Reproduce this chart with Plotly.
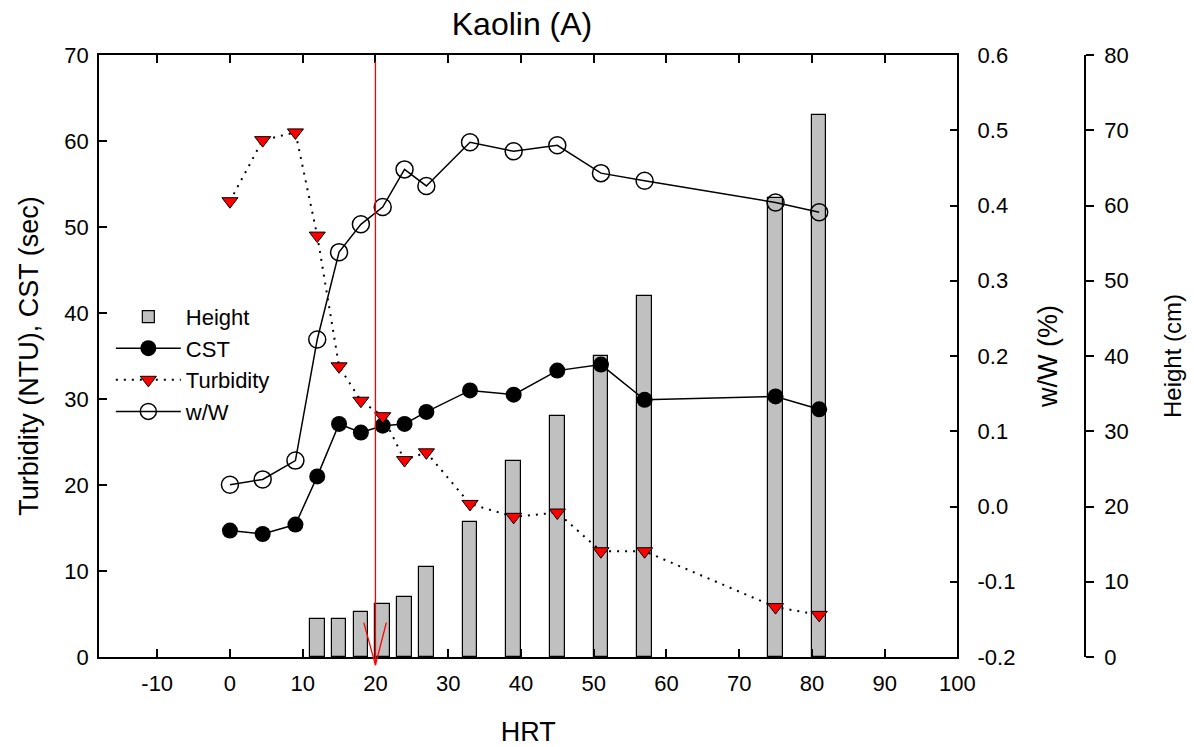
import plotly.graph_objects as go

# ---- data ----
hrt = [0, 4.5, 9, 12, 15, 18, 21, 24, 27, 33, 39, 45, 51, 57, 75, 81]
cst = [14.7, 14.3, 15.4, 21.0, 27.1, 26.1, 26.9, 27.1, 28.5, 31.0, 30.5, 33.3, 34.0, 29.9, 30.3, 28.8]
turbidity = [53.0, 60.1, 61.0, 49.0, 33.8, 29.8, 28.0, 22.9, 23.8, 17.8, 16.3, 16.8, 12.3, 12.3, 5.8, 4.9]
ww = [0.029, 0.036, 0.061, 0.222, 0.338, 0.375, 0.398, 0.448, 0.426, 0.484, 0.472, 0.480, 0.443, 0.433, 0.404, 0.391]

hrt_bar = [12, 15, 18, 21, 24, 27, 33, 39, 45, 51, 57, 75, 81]
height = [5, 5, 6, 7, 8, 12, 18, 26, 32, 40, 48, 61, 72]

x_ticks = [-10, 0, 10, 20, 30, 40, 50, 60, 70, 80, 90, 100]
x_ticktext = ["-10", "0", "10", "20", "30", "40", "50", "60", "70", "80", "90", "100"]
left_ticks = [0, 10, 20, 30, 40, 50, 60, 70]
ww_ticks = [-0.2, -0.1, 0.0, 0.1, 0.2, 0.3, 0.4, 0.5, 0.6]
ww_ticktext = ["-0.2", "-0.1", "0.0", "0.1", "0.2", "0.3", "0.4", "0.5", "0.6"]
height_ticks = [0, 10, 20, 30, 40, 50, 60, 70, 80]

arrow_x = 20          # HRT marked by the red arrow
left_range = [0, 70]

FONT = "Liberation Sans, Arial, sans-serif"

fig = go.Figure()

fig.add_trace(go.Bar(
    x=hrt_bar, y=height, width=2, name="Height", yaxis="y",
    marker=dict(color="#c0c0c0", line=dict(color="black", width=1.2)),
    legendgroup="a",
))
fig.add_trace(go.Scatter(
    x=hrt, y=cst, name="CST", yaxis="y2", mode="lines+markers",
    line=dict(color="black", width=1.5),
    marker=dict(symbol="circle", size=16, color="black"),
    legendgroup="b",
))
fig.add_trace(go.Scatter(
    x=hrt, y=turbidity, name="Turbidity", yaxis="y2", mode="lines+markers",
    line=dict(color="black", width=2, dash="2px,6px"),
    marker=dict(symbol="triangle-down", size=14, color="red",
                line=dict(color="black", width=1)),
    legendgroup="c",
))
fig.add_trace(go.Scatter(
    x=hrt, y=ww, name="w/W", yaxis="y3", mode="lines+markers",
    line=dict(color="black", width=1.5),
    marker=dict(symbol="circle-open", size=17, color="black", line=dict(width=1.5)),
    legendgroup="d",
))

def yp(v):
    return (v - left_range[0]) / (left_range[1] - left_range[0])

red = dict(color="red", width=1.3)
shapes = [
    dict(type="line", xref="x", yref="paper", x0=arrow_x, x1=arrow_x,
         y0=yp(69.2), y1=yp(-0.95), line=red),
    dict(type="line", xref="x", yref="paper", x0=arrow_x - 1.6, x1=arrow_x,
         y0=yp(4.0), y1=yp(-0.95), line=red),
    dict(type="line", xref="x", yref="paper", x0=arrow_x + 1.5, x1=arrow_x,
         y0=yp(4.0), y1=yp(-0.95), line=red),
]

tickfont = dict(family=FONT, size=22, color="black")
titlefont = dict(family=FONT, size=27, color="black")

fig.update_layout(
    width=1194, height=747,
    margin=dict(l=99, r=109, t=55, b=90, autoexpand=False),
    paper_bgcolor="white", plot_bgcolor="white",
    font=dict(family=FONT, color="black"),
    title=dict(text="Kaolin (A)", x=0.429, xref="paper", xanchor="center",
               y=1 - 24 / 747, yref="container", yanchor="middle",
               font=dict(family=FONT, size=32, color="black")),
    showlegend=True,
    legend=dict(x=0.012, y=0.6, xanchor="left", yanchor="top",
                font=dict(family=FONT, size=22, color="black"),
                bgcolor="rgba(0,0,0,0)", tracegroupgap=0, itemwidth=65,
                traceorder="normal"),
    bargap=0,
    shapes=shapes,
    xaxis=dict(domain=[0, 0.8706], range=[-18, 100], anchor="y",
               tickvals=x_ticks, ticktext=x_ticktext, automargin=False,
               ticks="inside", ticklen=8, tickwidth=1.5, tickcolor="black",
               ticklabelstandoff=6,
               showline=True, linecolor="black", linewidth=1.5, mirror="ticks",
               showgrid=False, zeroline=False, tickfont=tickfont,
               title=dict(text="HRT", font=titlefont, standoff=31)),
    yaxis=dict(range=[0, 80], anchor="free", position=1, side="right",
               tickvals=height_ticks, ticks="outside", ticklen=8, tickwidth=1.5,
               tickcolor="black", showline=True, linecolor="black", linewidth=1.5,
               ticklabelstandoff=6, automargin=False,
               showgrid=False, zeroline=False, tickfont=tickfont,
               title=dict(text="Height (cm)", font=dict(family=FONT, size=24, color="black"),
                          standoff=36)),
    yaxis2=dict(range=left_range, overlaying="y", side="left", anchor="x",
                tickvals=left_ticks, ticks="inside", ticklen=8, tickwidth=1.5,
                tickcolor="black", showline=True, linecolor="black", linewidth=1.5,
                ticklabelstandoff=4, automargin=False,
                showgrid=False, zeroline=False, tickfont=tickfont,
                title=dict(text="Turbidity (NTU), CST (sec)", font=titlefont, standoff=18)),
    yaxis3=dict(range=[-0.2, 0.6], overlaying="y", side="right", anchor="x",
                tickvals=ww_ticks, ticktext=ww_ticktext,
                ticks="inside", ticklen=8, tickwidth=1.5,
                tickcolor="black", showline=True, linecolor="black", linewidth=1.5,
                ticklabelstandoff=14, automargin=False,
                showgrid=False, zeroline=False, tickfont=tickfont,
                title=dict(text="w/W (%)", font=titlefont, standoff=24)),
)

fig.write_html("out.html")
